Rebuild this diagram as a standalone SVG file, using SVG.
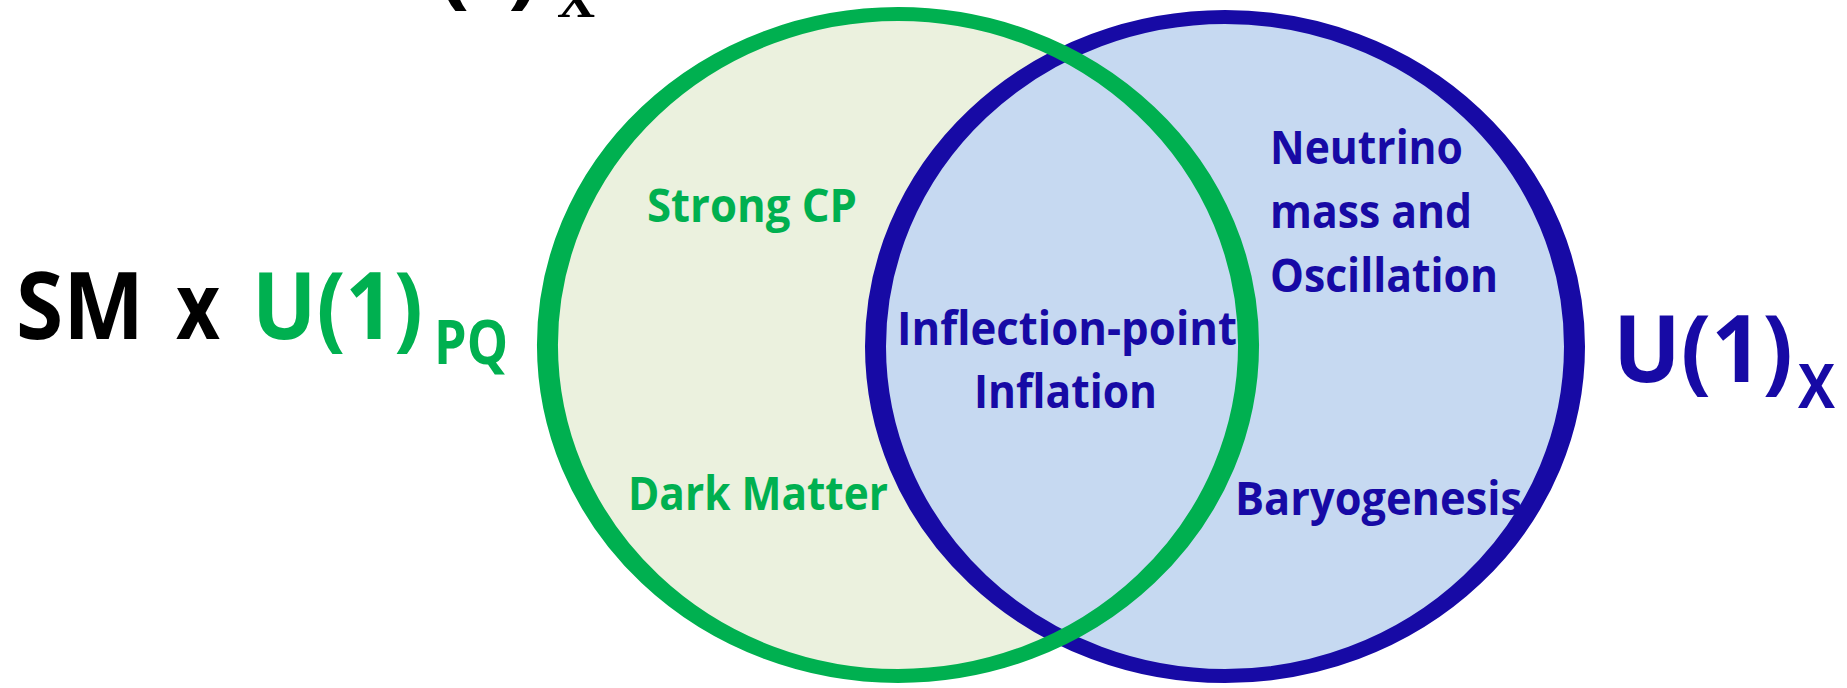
<svg xmlns="http://www.w3.org/2000/svg" width="1847" height="688" viewBox="0 0 1847 688">
<style>
.t{font-family:"Open Sans",Lato,"Liberation Sans",sans-serif;font-weight:700}
.g{fill:#00B050}
.b{fill:#170AA5}
.k{fill:#000000}
.big{font-size:93px}
.sub{font-size:60px}
.lab{font-size:47px}
</style>
<rect width="1847" height="688" fill="#FFFFFF"/>
<g id="set-pq-fill">
<ellipse cx="0" cy="0" rx="233.7" ry="331" transform="translate(898,345) scale(1.5,1)" fill="#EBF1DE"/>
</g>
<g id="set-x">
<ellipse cx="0" cy="0" rx="233" ry="329.5" transform="translate(1225,346.5) scale(1.5,1)" fill="#C6D9F1" stroke="#170AA5" stroke-width="14"/>
</g>
<g id="set-pq">
<ellipse cx="0" cy="0" rx="233.7" ry="331" transform="translate(898,345) scale(1.5,1)" fill="none" stroke="#00B050" stroke-width="14"/>
</g>
<g id="connectors"/>
<g id="top-label">
<text class="t k big" x="438" y="-4">(</text>
<text class="t k big" x="508" y="-4">)</text>
<text x="557" y="17" font-family="'Liberation Serif',serif" font-weight="700" font-size="52" fill="#000" textLength="38" lengthAdjust="spacingAndGlyphs">X</text>
</g>
<g id="left-label">
<text class="t k big" x="16" y="339" textLength="128" lengthAdjust="spacingAndGlyphs">SM</text>
<text class="t k big" x="176" y="339" textLength="44" lengthAdjust="spacingAndGlyphs">x</text>
<text class="t g big" x="252" y="339" textLength="171" lengthAdjust="spacingAndGlyphs">U(1)</text>
<text class="t g sub" x="434" y="364" textLength="74" lengthAdjust="spacingAndGlyphs">PQ</text>
</g>
<g id="right-label">
<text class="t b big" x="1613" y="382" textLength="180" lengthAdjust="spacingAndGlyphs">U(1)</text>
<text class="t b sub" x="1798" y="408" textLength="37" lengthAdjust="spacingAndGlyphs">X</text>
</g>
<g id="strong-cp">
<text class="t g lab" x="647" y="222" textLength="210" lengthAdjust="spacingAndGlyphs">Strong CP</text>
</g>
<g id="dark-matter">
<text class="t g lab" x="628" y="510" textLength="260" lengthAdjust="spacingAndGlyphs">Dark Matter</text>
</g>
<g id="neutrino">
<text class="t b lab" x="1270" y="164" textLength="193" lengthAdjust="spacingAndGlyphs">Neutrino</text>
<text class="t b lab" x="1270" y="228" textLength="202" lengthAdjust="spacingAndGlyphs">mass and</text>
<text class="t b lab" x="1270" y="292" textLength="228" lengthAdjust="spacingAndGlyphs">Oscillation</text>
</g>
<g id="inflation">
<text class="t b lab" x="897" y="345" textLength="340" lengthAdjust="spacingAndGlyphs">Inflection-point</text>
<text class="t b lab" x="974" y="408" textLength="183" lengthAdjust="spacingAndGlyphs">Inflation</text>
</g>
<g id="baryogenesis">
<text class="t b lab" x="1235" y="515" textLength="287" lengthAdjust="spacingAndGlyphs">Baryogenesis</text>
</g>
</svg>
